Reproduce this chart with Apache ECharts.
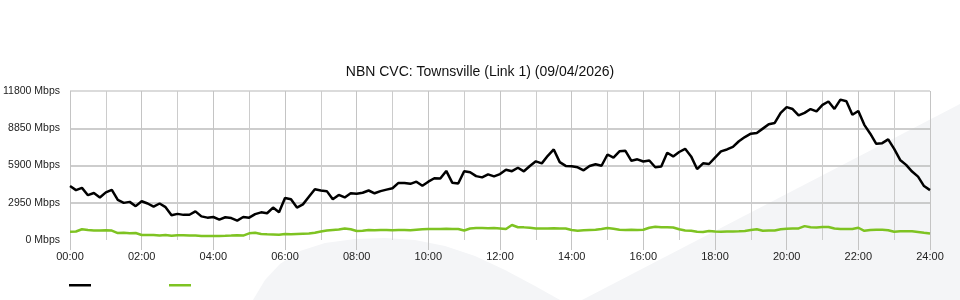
<!DOCTYPE html>
<html>
<head>
<meta charset="utf-8">
<script src="https://cdn.jsdelivr.net/npm/echarts@6/dist/echarts.min.js"></script>
<style>
html,body{margin:0;padding:0;background:#fff;}
#chart{width:960px;height:300px;}
</style>
</head>
<body>
<div id="chart"></div>
<script>
// Time of each sample, minutes since midnight (10-minute steps)
var minutes = [];
for (var i = 0; i <= 144; i++) minutes.push(i * 10);

var xTickLabels = ['00:00','02:00','04:00','06:00','08:00','10:00','12:00','14:00','16:00','18:00','20:00','22:00','24:00'];
var yTickLabels = ['0 Mbps','2950 Mbps','5900 Mbps','8850 Mbps','11800 Mbps'];

// Black series (Mbps)
var seriesBlack = [
4270,3950,4130,3550,3720,3370,3770,3970,3170,2940,
3020,2680,3070,2890,2640,2890,2600,1960,2070,1990,
2000,2270,1870,1770,1820,1620,1800,1740,1540,1820,
1770,2050,2190,2120,2570,2200,3320,3220,2570,2820,
3420,4020,3920,3870,3220,3570,3370,3700,3670,3740,
3920,3700,3870,3990,4100,4520,4520,4450,4620,4300,
4620,4890,4870,5470,4540,4480,5450,5370,5060,4960,
5200,5040,5220,5570,5450,5720,5440,5860,6230,6070,
6670,7170,6170,5870,5840,5760,5520,5860,6000,5880,
6770,6520,7020,7060,6270,6390,6220,6300,5760,5820,
6910,6620,6970,7220,6620,5620,6070,6020,6520,7020,
7170,7370,7820,8150,8420,8470,8820,9170,9270,10070,
10520,10370,9870,10070,10370,10190,10700,10970,10380,11120,
10990,9920,10220,9120,8420,7620,7670,7970,7220,6340,
5950,5420,5020,4270,3950
];

// Green series (Mbps)
var seriesGreen = [
650,670,850,790,760,760,770,750,550,570,
530,550,400,390,400,350,390,330,370,380,
350,360,320,320,320,320,330,350,380,350,
530,570,480,450,440,420,480,450,480,500,
520,570,670,750,800,830,910,850,710,730,
800,770,790,800,780,790,800,770,810,850,
880,870,870,890,870,870,750,910,950,950,
940,950,920,870,1190,1010,1000,970,920,920,
910,930,920,910,790,740,770,800,810,870,
950,890,810,800,820,800,810,970,1050,1010,
1000,990,850,750,730,650,630,710,670,650,
670,680,690,710,790,850,730,750,760,850,
890,910,920,1100,1010,990,1020,1030,910,870,
870,870,970,730,800,810,810,770,650,700,
700,690,630,570,520
];

function pairs(vals){ return vals.map(function(v,i){ return [minutes[i], v]; }); }

var chart = echarts.init(document.getElementById('chart'), null, {renderer:'canvas'});
var font = 'Liberation Sans';
chart.setOption({
  animation:false,
  backgroundColor:'#ffffff',
  title:{
    text:'NBN CVC: Townsville (Link 1) (09/04/2026)',
    left:'center', top:60,
    textStyle:{fontFamily:font, fontSize:14, fontWeight:'normal', color:'#111'}
  },
  graphic:{elements:[
    {type:'polygon', z:-10, silent:true,
     shape:{points:[[253,300],[265,280],[280,264],[300,251],[325,243],[355,239],[385,238],[415,240],[445,246],[475,256],[505,270],[535,286],[560,300]]},
     style:{fill:'#f4f5f7'}},
    {type:'polygon', z:-10, silent:true,
     shape:{points:[[582,300],[960,104],[960,300]]},
     style:{fill:'#f4f5f7'}}
  ]},
  legend:{
    left:64, top:279, itemWidth:22, itemHeight:2.5, itemGap:78, icon:'rect',
    formatter:function(){ return ''; },
    data:['In','Out']
  },
  grid:{left:70, right:30, top:91, bottom:60},
  xAxis:{
    type:'value', min:0, max:1440, interval:120,
    axisLine:{show:false},
    axisTick:{show:true, length:10, lineStyle:{color:'#c4c4c4', width:1}},
    axisLabel:{margin:11, fontFamily:font, fontSize:11, color:'#222',
      formatter:function(v){ return xTickLabels[Math.round(v/120)]; }},
    splitLine:{show:true, lineStyle:{color:'#c4c4c4', width:1}},
    minorTick:{show:false, splitNumber:2},
    minorSplitLine:{show:true, lineStyle:{color:'#cccccc', width:1}}
  },
  yAxis:{
    type:'value', min:0, max:11800, interval:2950,
    axisLine:{show:false}, axisTick:{show:false},
    axisLabel:{margin:10, fontFamily:font, fontSize:10.5, color:'#222',
      formatter:function(v){ return yTickLabels[Math.round(v/2950)]; }},
    splitLine:{show:true, lineStyle:{color:['rgba(0,0,0,0)','#bdbdbd','#bdbdbd','#bdbdbd','#cfcfcf'], width:1.6}}
  },
  series:[
    {name:'In', type:'line', data:pairs(seriesBlack), showSymbol:false, symbol:'none',
     lineStyle:{color:'#000000', width:2.5}, itemStyle:{color:'#000000'}, z:3},
    {name:'Out', type:'line', data:pairs(seriesGreen), showSymbol:false, symbol:'none',
     lineStyle:{color:'#7ec322', width:2.5}, itemStyle:{color:'#7ec322'}, z:2}
  ]
});
</script>
</body>
</html>
